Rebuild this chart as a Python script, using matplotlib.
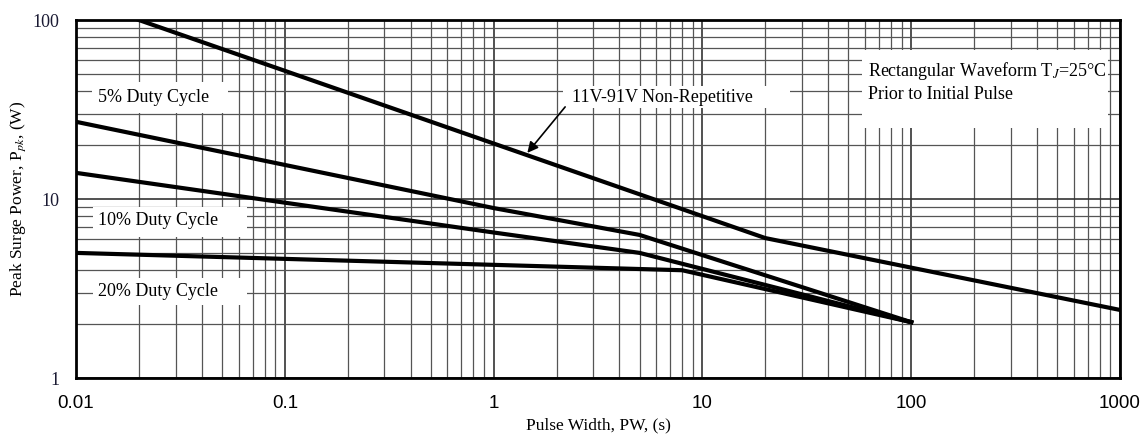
import numpy as np
import matplotlib
matplotlib.use("Agg")
import matplotlib.pyplot as plt
from matplotlib.patches import Rectangle

# Courbes (largeur d'impulsion en s, puissance en W)
pw_nonrep = [0.02, 20, 1000]
ppk_nonrep = [100, 6.05, 2.4]

pw_5 = [0.01, 1, 5, 100]
ppk_5 = [27, 8.9, 6.3, 2.05]

pw_10 = [0.01, 1, 5, 100]
ppk_10 = [14, 6.5, 5.0, 2.05]

pw_20 = [0.01, 8, 100]
ppk_20 = [5, 4.0, 2.05]

x_ticks = [0.01, 0.1, 1, 10, 100, 1000]
x_labels = ["0.01", "0.1", "1", "10", "100", "1000"]
y_ticks = [1, 10, 100]
y_labels = ["1", "10", "100"]

plt.rcParams['mathtext.fontset'] = 'stix'
serif = 'Liberation Serif'
sans = 'Liberation Sans'

fig = plt.figure(figsize=(11.47, 4.4), dpi=100)
ax = fig.add_axes([0.0663, 0.1409, 0.9102, 0.8136])
ax.set_xscale('log')
ax.set_yscale('log')
ax.set_xlim(0.01, 1000)
ax.set_ylim(1, 100)

ax.grid(True, which='major', color='#333333', linewidth=1.2)
ax.grid(True, which='minor', color='#555555', linewidth=0.9)
ax.tick_params(which='both', length=0)
for s in ax.spines.values():
    s.set_linewidth(2)
    s.set_color('black')
    s.set_zorder(10)

ax.set_xticks(x_ticks)
ax.set_xticklabels(x_labels, fontfamily=sans, fontsize=13.5)
ax.set_yticks(y_ticks)
ax.set_yticklabels(y_labels, fontfamily=serif, fontsize=13, color='#1a1a33')
ax.tick_params(axis='x', pad=12)
ax.tick_params(axis='y', pad=12)

for x, y in [(pw_nonrep, ppk_nonrep), (pw_5, ppk_5), (pw_10, ppk_10), (pw_20, ppk_20)]:
    ax.plot(x, y, color='black', linewidth=3, solid_joinstyle='round', zorder=5)

# fonds blancs des étiquettes (x0, x1, y0, y1 en unités des axes log)
boxes = [
    (0.0119, 0.0535, 30.2, 45.0),
    (0.0121, 0.0659, 6.13, 9.02),
    (0.0121, 0.0659, 2.56, 3.62),
    (2.15, 26.3, 32.2, 42.8),
    (58.1, 877, 24.9, 68.0),
]
for x0, x1, y0, y1 in boxes:
    ax.add_patch(Rectangle((x0, y0), x1 - x0, y1 - y0, facecolor='white',
                           edgecolor='none', zorder=3))

ax.text(0.0127, 37.1, "5% Duty Cycle", fontfamily=serif, fontsize=13, va='center', zorder=4)
ax.text(0.0127, 7.63, "10% Duty Cycle", fontfamily=serif, fontsize=13, va='center', zorder=4)
ax.text(0.0127, 3.06, "20% Duty Cycle", fontfamily=serif, fontsize=13, va='center', zorder=4)

ax.text(2.37, 37.1, "11V-91V Non-Repetitive", fontfamily=serif, fontsize=13,
        va='center', ha='left', zorder=4)
ax.annotate("", xy=(1.45, 18.1), xytext=(2.2, 32.7),
            arrowprops=dict(arrowstyle='-|>', color='black', lw=1.2, mutation_scale=16,
                            shrinkA=0, shrinkB=0),
            zorder=6)

ax.text(62, 45.6, "Rectangular Waveform T$_J$=25°C\nPrior to Initial Pulse", fontfamily=serif,
        fontsize=13, va='center', ha='left', linespacing=1.3, zorder=4)

ax.set_xlabel("Pulse Width, PW, (s)", fontfamily=serif, fontsize=12.5, labelpad=4)
ax.set_ylabel("Peak Surge Power, P$_{pk}$, (W)", fontfamily=serif, fontsize=12.5, labelpad=3)

fig.savefig("out.png", dpi=100)
